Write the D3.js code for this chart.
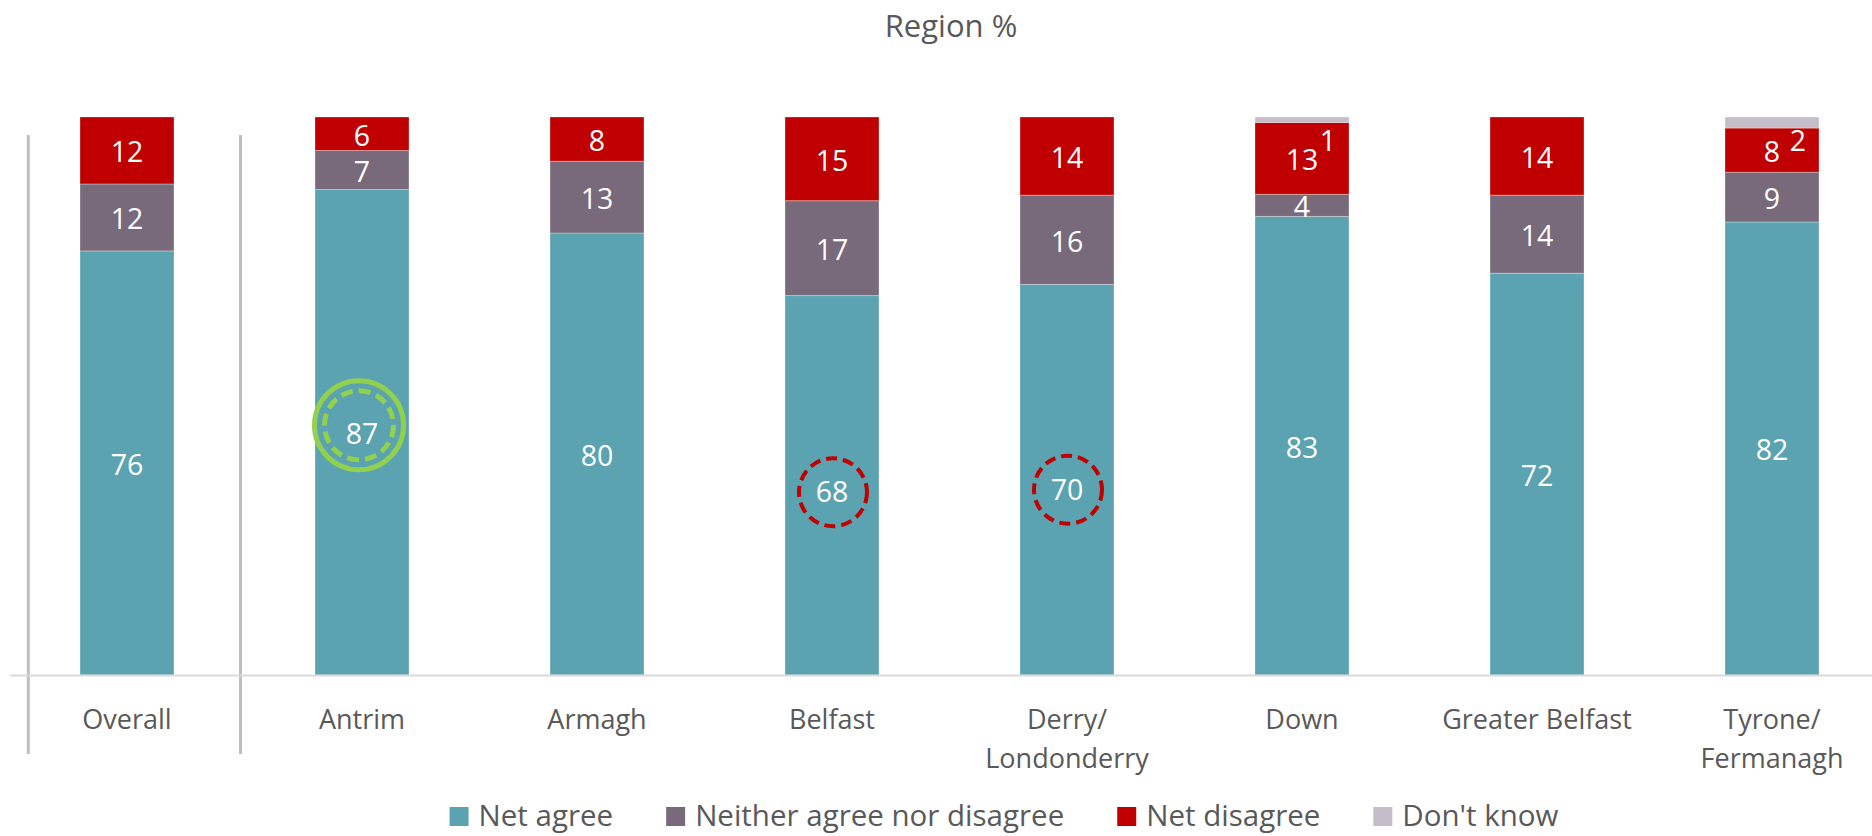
<!DOCTYPE html>
<html>
<head>
<meta charset="utf-8">
<script src="https://cdn.jsdelivr.net/npm/d3@7"></script>
<style>
  html, body { margin: 0; padding: 0; background: #ffffff; }
  svg { display: block; font-family: "Open Sans", "Noto Sans", sans-serif; }
</style>
</head>
<body>
<svg id="chart" width="1872" height="836"></svg>
<script>
// Categories and their axis labels (line-broken where needed)
const categories = ["Overall", "Antrim", "Armagh", "Belfast", "Derry/Londonderry", "Down", "Greater Belfast", "Tyrone/Fermanagh"];
const tickLabels = [["Overall"], ["Antrim"], ["Armagh"], ["Belfast"], ["Derry/", "Londonderry"], ["Down"], ["Greater Belfast"], ["Tyrone/", "Fermanagh"]];

// Response shares (%)
const netAgree    = [76, 87, 80, 68, 70, 83, 72, 82];
const neither     = [12, 7, 13, 17, 16, 4, 14, 9];
const netDisagree = [12, 6, 8, 15, 14, 13, 14, 8];
const dontKnow    = [0, 0, 0, 0, 0, 1, 0, 2];

const seriesNames = ["Net agree", "Neither agree nor disagree", "Net disagree", "Don't know"];
const seriesKeys  = ["agree", "neither", "disagree", "dk"];
const seriesColors = ["#5ba3b0", "#796a7b", "#c00000", "#c5bdca"];

// Highlighted regions: significantly higher / lower than overall
const highHighlights = ["Antrim"];
const lowHighlights  = ["Belfast", "Derry/Londonderry"];

// Small manual nudges (px) for the Net agree labels sitting inside rings
const agreeLabelNudge = [0, 0, 0, 5, 8, 0, 0, 0];

const rows = categories.map((c, i) => ({
  category: c,
  agree: netAgree[i], neither: neither[i], disagree: netDisagree[i], dk: dontKnow[i],
  nudge: agreeLabelNudge[i]
}));

const svg = d3.select("#chart");
const baseY = 675, topY = 117;

const x = d3.scaleBand().domain(categories).range([9.5, 1889.5]).paddingInner(0.6).paddingOuter(0.3);
const y = d3.scaleLinear().domain([0, 1]).range([baseY, topY]);
const color = d3.scaleOrdinal().domain(seriesKeys).range(seriesColors);

const stacked = d3.stack().keys(seriesKeys).offset(d3.stackOffsetExpand)(rows);

// Title
svg.append("text")
  .attr("x", 951).attr("y", 37)
  .attr("text-anchor", "middle")
  .attr("fill", "#595959")
  .attr("font-size", 31)
  .text("Region %");

// Group separators (left edge and between Overall and the regions)
const bw = x.bandwidth();
const sepXs = [x("Overall") - x.step() * 0.22, (x("Overall") + bw + x("Antrim")) / 2 - 4];
svg.append("g").selectAll("line").data(sepXs).join("line")
  .attr("x1", d => d).attr("x2", d => d)
  .attr("y1", 135).attr("y2", 754)
  .attr("stroke", "#bfbfbf").attr("stroke-width", 3);

// Stacked bars
const layers = svg.append("g").selectAll("g").data(stacked).join("g")
  .attr("fill", d => color(d.key));

layers.selectAll("rect").data(d => d.filter(s => s[1] - s[0] > 0)).join("rect")
  .attr("x", d => x(d.data.category))
  .attr("width", bw)
  .attr("y", d => y(d[1]))
  .attr("height", d => y(d[0]) - y(d[1]))
  .attr("stroke", "rgba(255,255,255,0.3)")
  .attr("stroke-width", 1);

// Axis along the baseline
const axis = svg.append("g")
  .attr("transform", `translate(0,${baseY})`)
  .call(d3.axisBottom(x).tickSize(0).tickFormat(""));
axis.select(".domain").attr("stroke", "#d9d9d9").attr("stroke-width", 2);
axis.selectAll(".tick").each(function(d, i) {
  const t = d3.select(this).append("text")
    .attr("y", 54)
    .attr("text-anchor", "middle")
    .attr("fill", "#595959")
    .attr("font-size", 27)
    .attr("font-family", "'Open Sans', sans-serif");
  tickLabels[i].forEach((line, j) => {
    t.append("tspan").attr("x", 0).attr("dy", j === 0 ? 0 : 39).text(line);
  });
});

// Value labels
const labelG = svg.append("g")
  .attr("fill", "#ffffff")
  .attr("font-size", 28.5)
  .attr("text-anchor", "middle");

const labelPos = {};
stacked.forEach(layer => {
  layer.forEach(s => {
    const v = s.data[layer.key];
    if (!v) return;
    const cx = x(s.data.category) + bw / 2;
    if (layer.key === "dk") {
      labelG.append("text")
        .attr("x", cx + 26)
        .attr("y", y(s[1]) + 24)
        .attr("dy", "0.35em")
        .text(v);
    } else {
      let cy = (y(s[0]) + y(s[1])) / 2 + 2;
      if (layer.key === "agree") {
        cy += s.data.nudge;
        labelPos[s.data.category] = [cx, cy];
      }
      labelG.append("text")
        .attr("x", cx)
        .attr("y", cy)
        .attr("dy", "0.35em")
        .text(v);
    }
  });
});

// Highlight rings around the Net agree values
const ringG = svg.append("g").attr("fill", "none");
highHighlights.forEach(c => {
  const [cx, cy] = labelPos[c];
  const g = ringG.append("g").attr("transform", `translate(${cx - 3},${cy - 9})`);
  g.append("circle").attr("r", 44.5).attr("stroke", "#92d050").attr("stroke-width", 5);
  g.append("circle").attr("r", 34.5).attr("stroke", "#92d050").attr("stroke-width", 5)
    .attr("stroke-dasharray", "12 6");
});
lowHighlights.forEach(c => {
  const [cx, cy] = labelPos[c];
  ringG.append("circle")
    .attr("cx", cx + 1).attr("cy", cy)
    .attr("r", 34).attr("stroke", "#c00000").attr("stroke-width", 4)
    .attr("stroke-dasharray", "11 6");
});

// Legend, centred beneath the plot
const legend = svg.append("g").attr("font-size", 29.5).attr("fill", "#595959");
const items = legend.selectAll("g").data(seriesNames).join("g");
items.append("rect")
  .attr("width", 19).attr("height", 19)
  .attr("y", 807)
  .attr("fill", (d, i) => seriesColors[i]);
items.append("text")
  .attr("x", 29)
  .attr("y", 816)
  .attr("dy", "0.35em")
  .text(d => d);
let offset = 0;
const positions = [];
items.each(function() {
  const w = d3.select(this).select("text").node().getComputedTextLength();
  positions.push(offset);
  offset += 29 + w + 53;
});
const total = offset - 53;
const startX = 1004 - total / 2;
items.attr("transform", (d, i) => `translate(${startX + positions[i]},0)`);
</script>
</body>
</html>
